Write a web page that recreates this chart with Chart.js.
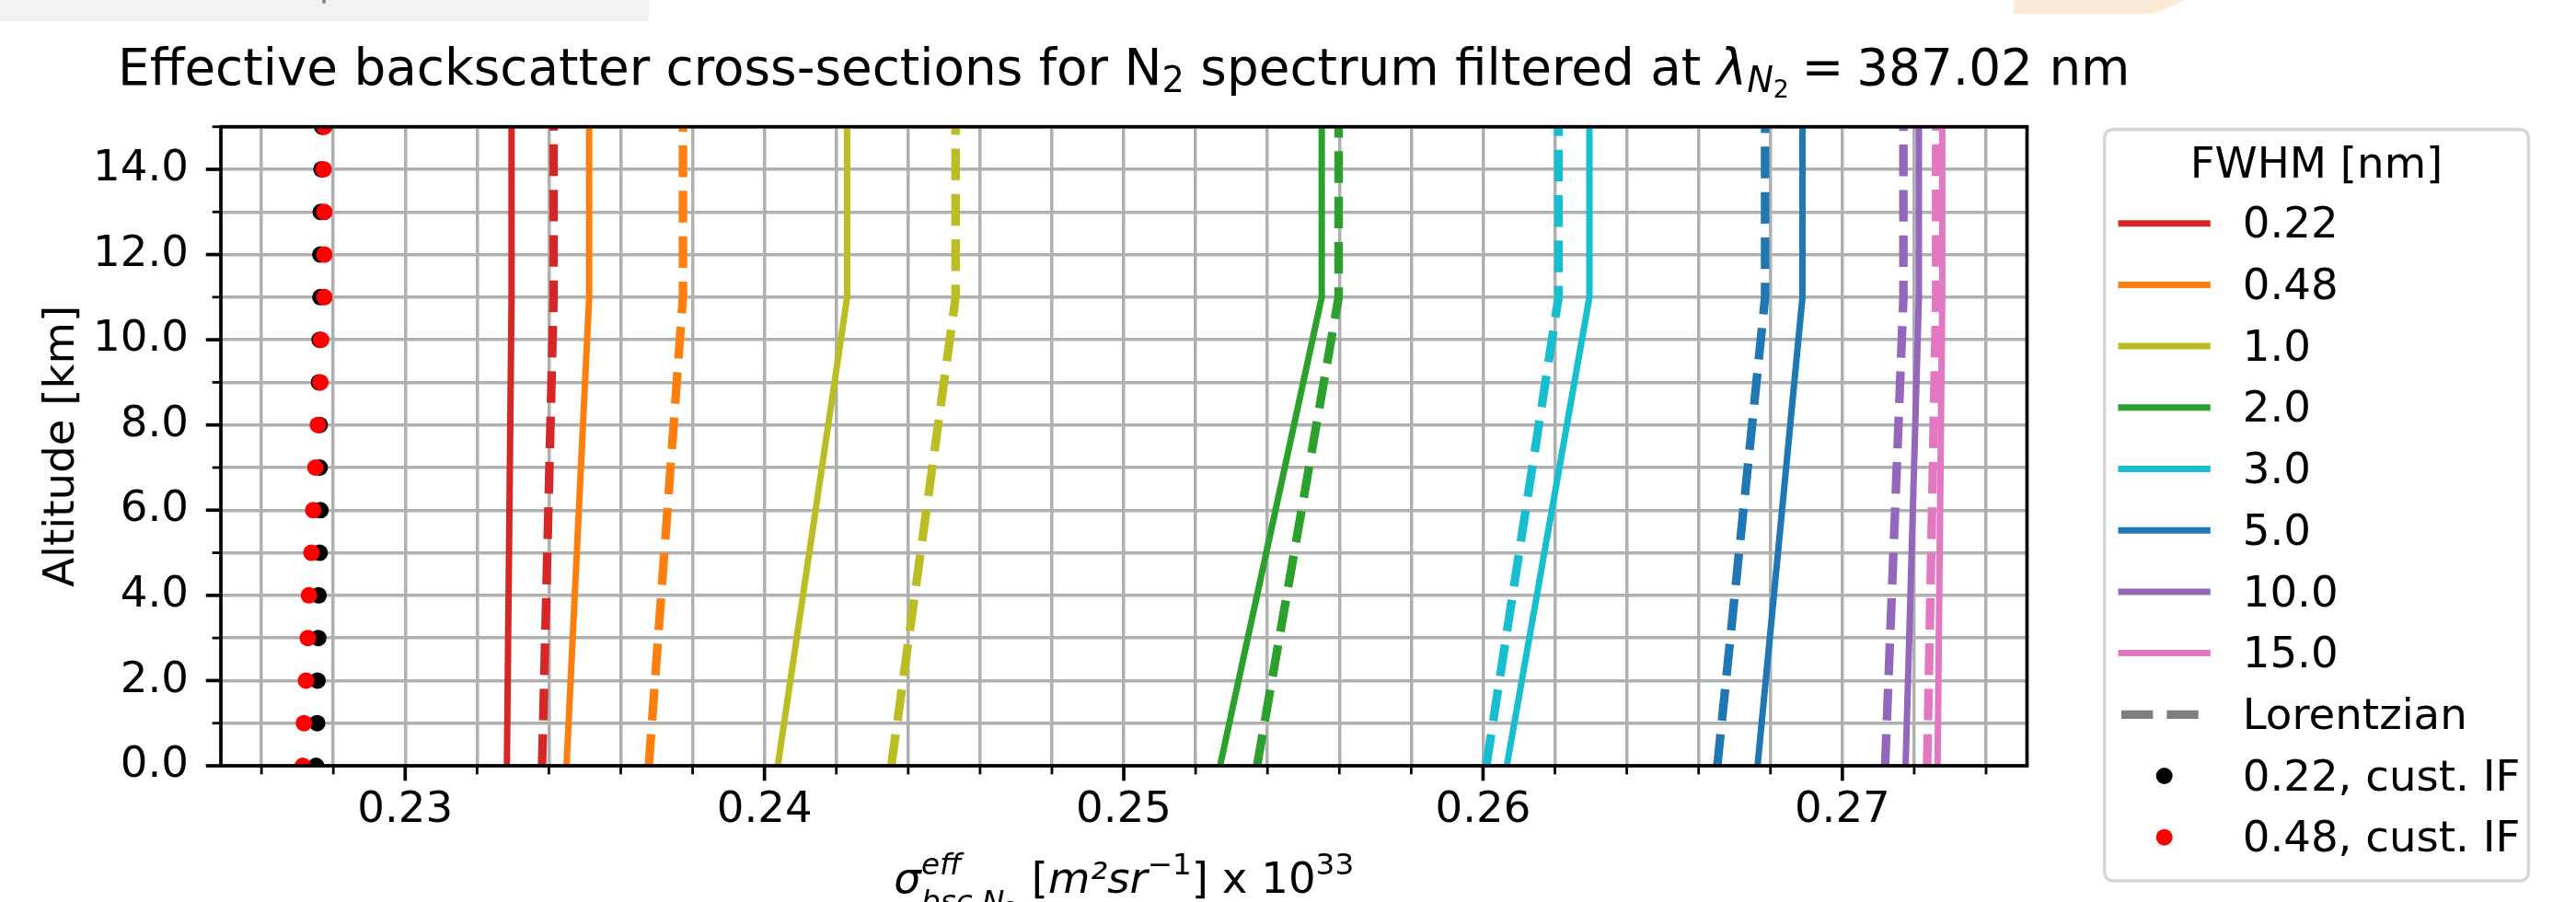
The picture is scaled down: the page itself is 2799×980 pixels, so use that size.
<!DOCTYPE html>
<html>
<head>
<meta charset="utf-8">
<title>Secciones eficaces N2</title>
<script src="https://cdn.jsdelivr.net/npm/chart.js@4.4.1/dist/chart.umd.min.js"></script>
<style>
    html, body { margin: 0; padding: 0; background: #fff; }
    body { width: 2799px; height: 980px; position: relative; overflow: hidden; }
    /* Restos de la captura original en el borde superior */
    #bandaGris { position: absolute; left: 0; top: 0; width: 705px; height: 23px; background: #f2f2f2; }
    #marcaGris { position: absolute; left: 350px; top: 0; width: 4px; height: 4px; background: #8c8c8c; border-radius: 0 0 2px 2px; }
    #manchaNaranja { position: absolute; left: 2188px; top: 0; width: 187px; height: 15px; background: #fbead6;
                     clip-path: polygon(0 0, 187px 0, 151px 15px, 0 15px); }
    #grafica { position: absolute; left: 0; top: 0; }
</style>
</head>
<body>
<div id="bandaGris"></div>
<div id="marcaGris"></div>
<div id="manchaNaranja"></div>
<canvas id="grafica" width="2799" height="980"></canvas>
<script>
/* 1. DATOS */
// Alturas [km] de los vertices de cada curva (tramo inclinado hasta 11 km y vertical despues).
const altitudesCurva = [0, 11, 15];
// Alturas [km] de los puntos calculados con el filtro personalizado.
const altitudesPuntos = [0, 1, 2, 3, 4, 5, 6, 7, 8, 9, 10, 11, 12, 13, 14, 15];

// Anchuras FWHM [nm] y su color (paleta tab10).
const etiquetasFwhm = ['0.22', '0.48', '1.0', '2.0', '3.0', '5.0', '10.0', '15.0'];
const coloresFwhm = ['#d62728', '#ff7f0e', '#bcbd22', '#2ca02c', '#17becf', '#1f77b4', '#9467bd', '#e377c2'];

// Seccion eficaz [m2 sr-1] x 1e33, perfil gaussiano (linea continua), en 0, 11 y 15 km.
const gauss022 = [0.23283, 0.23296, 0.23296];
const gauss048 = [0.23449, 0.23512, 0.23512];
const gauss100 = [0.24037, 0.24230, 0.24230];
const gauss200 = [0.25268, 0.25551, 0.25551];
const gauss300 = [0.26066, 0.26296, 0.26296];
const gauss500 = [0.26764, 0.26889, 0.26889];
const gauss1000 = [0.27176, 0.27213, 0.27213];
const gauss1500 = [0.27265, 0.27278, 0.27278];

// Lo mismo para el perfil lorentziano (linea discontinua).
const lorentz022 = [0.23381, 0.23413, 0.23413];
const lorentz048 = [0.23678, 0.23773, 0.23773];
const lorentz100 = [0.24353, 0.24532, 0.24532];
const lorentz200 = [0.25371, 0.25598, 0.25598];
const lorentz300 = [0.26009, 0.26210, 0.26210];
const lorentz500 = [0.26652, 0.26785, 0.26785];
const lorentz1000 = [0.27119, 0.27170, 0.27170];
const lorentz1500 = [0.27236, 0.27261, 0.27261];

// Filtro interferencial personalizado, un valor por kilometro (0 a 15 km).
const puntosIF022 = [0.22752, 0.22755, 0.22756, 0.22758, 0.22759, 0.22762, 0.22764, 0.22762,
                     0.22762, 0.22760, 0.22762, 0.22764, 0.22764, 0.22765, 0.22767, 0.22769];
const puntosIF048 = [0.22715, 0.22718, 0.22724, 0.22729, 0.22732, 0.22739, 0.22744, 0.22750,
                     0.22757, 0.22764, 0.22766, 0.22775, 0.22775, 0.22775, 0.22773, 0.22775];

// Marcas con etiqueta de cada eje; las intermedias van sin texto.
const marcasX = [0.23, 0.24, 0.25, 0.26, 0.27];
const marcasY = [0, 2, 4, 6, 8, 10, 12, 14];

const seriesGauss = [gauss022, gauss048, gauss100, gauss200, gauss300, gauss500, gauss1000, gauss1500];
const seriesLorentz = [lorentz022, lorentz048, lorentz100, lorentz200, lorentz300, lorentz500, lorentz1000, lorentz1500];

/* 2. ESTILO GENERAL */
const FAMILIA = '"DejaVu Sans"';
const TAM = 46.67;          // 10 pt a la resolucion de la figura
const TAM_TITULO = 54.8;    // ~12 pt, ajustado al ancho del original
const GROSOR_CONT = 7;
const GROSOR_DISC = 9.3;
const TRAZO_DISC = [34.4, 14.9];

function fuente(px, italica) {
    return (italica ? 'italic ' : '') + px + 'px ' + FAMILIA;
}

function aPuntos(valores, alturas) {
    return valores.map((v, k) => ({ x: v, y: alturas[k] }));
}

/* 3. CONJUNTOS DE DATOS */
const conjuntos = [];
etiquetasFwhm.forEach((etq, i) => {
    conjuntos.push({
        label: etq,
        data: aPuntos(seriesGauss[i], altitudesCurva),
        showLine: true, borderColor: coloresFwhm[i], borderWidth: GROSOR_CONT,
        borderJoinStyle: 'round', pointRadius: 0, clip: 0
    });
    conjuntos.push({
        label: etq + ' Lorentzian',
        data: aPuntos(seriesLorentz[i], altitudesCurva),
        showLine: true, borderColor: coloresFwhm[i], borderWidth: GROSOR_DISC,
        borderDash: TRAZO_DISC, borderJoinStyle: 'round', pointRadius: 0, clip: 0
    });
});
conjuntos.push({
    label: '0.22, cust. IF',
    data: aPuntos(puntosIF022, altitudesPuntos),
    showLine: false, pointRadius: 9, pointBorderWidth: 0, borderWidth: 0,
    pointBackgroundColor: '#000000', backgroundColor: '#000000', clip: 0
});
conjuntos.push({
    label: '0.48, cust. IF',
    data: aPuntos(puntosIF048, altitudesPuntos),
    showLine: false, pointRadius: 9, pointBorderWidth: 0, borderWidth: 0,
    pointBackgroundColor: '#ff0000', backgroundColor: '#ff0000', clip: 0
});
// Lo ultimo que se traza queda encima, como en matplotlib.
conjuntos.forEach((c, i) => { c.order = -i; });

// Entradas de la leyenda, en el orden de la figura.
const entradasLeyenda = etiquetasFwhm.map((e, i) => ({ tipo: 'linea', texto: e, color: coloresFwhm[i] }))
    .concat([
        { tipo: 'trazos', texto: 'Lorentzian', color: '#7f7f7f' },
        { tipo: 'punto', texto: '0.22, cust. IF', color: '#000000' },
        { tipo: 'punto', texto: '0.48, cust. IF', color: '#ff0000' }
    ]);

/* 4. TEXTO CON SUBINDICES Y SUPERINDICES */
// Cada trozo: t = texto, k = escala, dy = desplazamiento en em (positivo hacia abajo),
// it = cursiva, mismo = empieza en la misma x que el trozo anterior (sub y sup apilados).
function trazarTexto(ctx, trozos, base, x, y, alinear) {
    let cx = 0, inicioPrev = 0, finPrev = 0;
    const colocados = trozos.map(tr => {
        ctx.font = fuente(base * (tr.k || 1), tr.it);
        const ancho = ctx.measureText(tr.t).width;
        const inicio = tr.mismo ? inicioPrev : cx;
        const fin = inicio + ancho;
        cx = tr.mismo ? Math.max(finPrev, fin) : fin;
        inicioPrev = inicio;
        finPrev = fin;
        return { tr, inicio };
    });
    const x0 = alinear === 'center' ? x - cx / 2 : x;
    ctx.textAlign = 'left';
    ctx.textBaseline = 'alphabetic';
    colocados.forEach(({ tr, inicio }) => {
        ctx.font = fuente(base * (tr.k || 1), tr.it);
        ctx.fillText(tr.t, x0 + inicio, y + (tr.dy || 0) * base);
    });
}

const trozosTitulo = [
    { t: 'Effective backscatter cross-sections for N' },
    { t: '2', k: 0.7, dy: 0.15 },
    { t: ' spectrum filtered at ' },
    { t: 'λ', it: true },
    { t: 'N', k: 0.7, dy: 0.15, it: true },
    { t: '2', k: 0.49, dy: 0.26 },
    { t: '\u2005=\u2005387.02' },
    { t: ' nm' }
];

const trozosEjeX = [
    { t: 'σ', it: true },
    { t: 'eff', k: 0.7, dy: -0.43, it: true },
    { t: 'bsc,N', k: 0.7, dy: 0.43, it: true, mismo: true },
    { t: '2', k: 0.49, dy: 0.55 },
    { t: ' [' },
    { t: 'm²sr', it: true },
    { t: '−1', k: 0.7, dy: -0.43 },
    { t: '] x 10' },
    { t: '33', k: 0.7, dy: -0.43 }
];

/* 5. PLUGIN: MARCO, MARCAS, TITULOS Y LEYENDA */
const decorado = {
    id: 'decorado',
    afterDraw(chart) {
        const ctx = chart.ctx;
        const area = chart.chartArea;
        const ex = chart.scales.x;
        const ey = chart.scales.y;
        const esMayor = (lista, v) => lista.some(m => Math.abs(m - v) < 1e-9);
        ctx.save();

        // Marcas hacia fuera, mayores y menores.
        ctx.strokeStyle = '#000';
        ex.ticks.forEach(t => {
            const mayor = esMayor(marcasX, t.value);
            const px = ex.getPixelForValue(t.value);
            ctx.lineWidth = mayor ? 3.7 : 2.8;
            ctx.beginPath();
            ctx.moveTo(px, area.bottom);
            ctx.lineTo(px, area.bottom + (mayor ? 16.3 : 9.3));
            ctx.stroke();
        });
        ey.ticks.forEach(t => {
            const mayor = esMayor(marcasY, t.value);
            const py = ey.getPixelForValue(t.value);
            ctx.lineWidth = mayor ? 3.7 : 2.8;
            ctx.beginPath();
            ctx.moveTo(area.left, py);
            ctx.lineTo(area.left - (mayor ? 16.3 : 9.3), py);
            ctx.stroke();
        });

        // Los cuatro bordes del area de trazado.
        ctx.lineWidth = 3.7;
        ctx.lineJoin = 'miter';
        ctx.strokeRect(area.left, area.top, area.right - area.left, area.bottom - area.top);

        // Titulo y etiquetas de los ejes.
        const centroX = (area.left + area.right) / 2;
        ctx.fillStyle = '#000';
        trazarTexto(ctx, trozosTitulo, TAM_TITULO, centroX, 91.7, 'center');
        trazarTexto(ctx, trozosEjeX, TAM, centroX, 970, 'center');

        ctx.save();
        ctx.translate(80, (area.top + area.bottom) / 2);
        ctx.rotate(-Math.PI / 2);
        ctx.font = fuente(TAM);
        ctx.textAlign = 'center';
        ctx.textBaseline = 'alphabetic';
        ctx.fillText('Altitude [km]', 0, 0);
        ctx.restore();

        // Leyenda con marco redondeado.
        const caja = { x0: 2286.7, y0: 140.7, x1: 2747.3, y1: 957 };
        ctx.beginPath();
        ctx.roundRect(caja.x0, caja.y0, caja.x1 - caja.x0, caja.y1 - caja.y0, 9);
        ctx.fillStyle = 'rgba(255,255,255,0.8)';
        ctx.fill();
        ctx.strokeStyle = '#d6d6d6';
        ctx.lineWidth = 3.5;
        ctx.stroke();

        ctx.fillStyle = '#000';
        ctx.font = fuente(TAM);
        ctx.textAlign = 'center';
        ctx.textBaseline = 'alphabetic';
        ctx.fillText('FWHM [nm]', (caja.x0 + caja.x1) / 2, 192.7);

        const asaIni = 2305, asaFin = 2398.3, textoX = 2436.7;
        entradasLeyenda.forEach((ent, k) => {
            const yLinea = 242.7 + k * 66.7;
            ctx.save();
            if (ent.tipo === 'punto') {
                ctx.fillStyle = ent.color;
                ctx.beginPath();
                ctx.arc((asaIni + asaFin) / 2, yLinea, 9, 0, Math.PI * 2);
                ctx.fill();
            } else {
                ctx.strokeStyle = ent.color;
                ctx.lineWidth = ent.tipo === 'trazos' ? GROSOR_DISC : GROSOR_CONT;
                ctx.lineCap = ent.tipo === 'trazos' ? 'butt' : 'square';
                ctx.setLineDash(ent.tipo === 'trazos' ? TRAZO_DISC : []);
                ctx.beginPath();
                ctx.moveTo(asaIni, yLinea);
                ctx.lineTo(asaFin, yLinea);
                ctx.stroke();
            }
            ctx.restore();
            ctx.fillStyle = '#000';
            ctx.font = fuente(TAM);
            ctx.textAlign = 'left';
            ctx.fillText(ent.texto, textoX, yLinea + 15.6);
        });

        ctx.restore();
    }
};

/* 6. EJES */
// Genera todas las marcas (cada paso menor) dentro del rango del eje.
function marcasCompletas(escala, paso) {
    const lista = [];
    for (let i = Math.ceil(escala.min / paso - 1e-9); i * paso <= escala.max + 1e-9; i++) {
        lista.push({ value: Math.round(i * paso * 1e6) / 1e6 });
    }
    escala.ticks = lista;
}

const estiloRejilla = { color: '#b0b0b0', lineWidth: 3.5, drawTicks: false };

new Chart(document.getElementById('grafica'), {
    type: 'scatter',
    data: { datasets: conjuntos },
    plugins: [decorado],
    options: {
        responsive: false,
        devicePixelRatio: 1,
        animation: false,
        events: [],
        layout: { padding: { left: 0, top: 137.7, right: 596.5, bottom: 0 } },
        plugins: {
            legend: { display: false },
            title: { display: false },
            tooltip: { enabled: false }
        },
        scales: {
            x: {
                type: 'linear',
                min: 0.22487,
                max: 0.27514,
                afterBuildTicks: s => marcasCompletas(s, 0.002),
                afterFit: s => { s.height = 148; },
                grid: estiloRejilla,
                border: { display: false },
                ticks: {
                    autoSkip: false, maxRotation: 0, padding: 21, color: '#000',
                    font: { family: 'DejaVu Sans', size: TAM },
                    callback: v => marcasX.some(m => Math.abs(m - v) < 1e-9) ? v.toFixed(2) : ''
                }
            },
            y: {
                type: 'linear',
                min: 0,
                max: 15,
                afterBuildTicks: s => marcasCompletas(s, 1),
                afterFit: s => { s.width = 240; },
                grid: estiloRejilla,
                border: { display: false },
                ticks: {
                    autoSkip: false, padding: 35, color: '#000',
                    font: { family: 'DejaVu Sans', size: TAM },
                    callback: v => marcasY.includes(v) ? v.toFixed(1) : ''
                }
            }
        }
    }
});
</script>
</body>
</html>
